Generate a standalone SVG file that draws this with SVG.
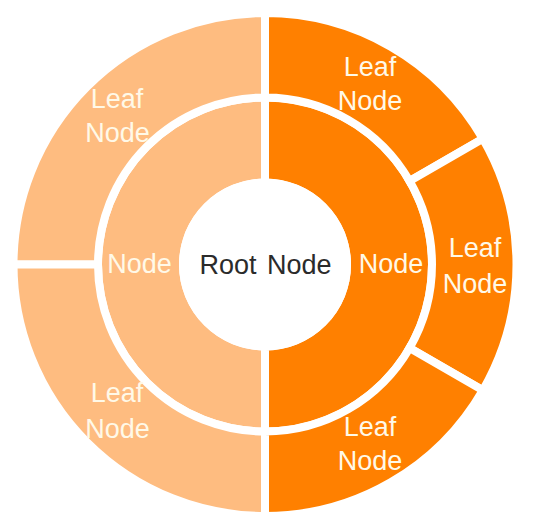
<svg xmlns="http://www.w3.org/2000/svg" width="540" height="530" viewBox="0 0 540 530">
<style>
.seg{stroke:#ffffff;stroke-width:8;stroke-linejoin:miter}
.light{fill:#FEBC80}
.dark{fill:#FF8000}
.lbl{font-family:"Liberation Sans","DejaVu Sans",sans-serif;font-size:27px;fill:#FFF9E8;text-anchor:middle}
.root{font-family:"Liberation Sans","DejaVu Sans",sans-serif;font-size:27px;fill:#2b2b2b;text-anchor:middle;word-spacing:3px}
</style>
<rect x="0" y="0" width="540" height="530" fill="#ffffff"/>
<g id="connectors"></g>
<g id="inner-left">
<path class="seg light" d="M265,97.5 A167,167 0 0 0 265,431.5 L265,346.5 A82,82 0 0 1 265,182.5 Z"/>
<text class="lbl" x="139.5" y="273">Node</text>
</g>
<g id="inner-right">
<path class="seg dark" d="M265,97.5 A167,167 0 0 1 265,431.5 L265,346.5 A82,82 0 0 0 265,182.5 Z"/>
<text class="lbl" x="391" y="273">Node</text>
</g>
<g id="leaf-top-left">
<path class="seg light" d="M265,13 A251.5,251.5 0 0 0 13.5,264.5 L98,264.5 A167,167 0 0 1 265,97.5 Z"/>
<text class="lbl" x="117" y="108">Leaf</text>
<text class="lbl" x="117.5" y="142">Node</text>
</g>
<g id="leaf-bottom-left">
<path class="seg light" d="M13.5,264.5 A251.5,251.5 0 0 0 265,516 L265,431.5 A167,167 0 0 1 98,264.5 Z"/>
<text class="lbl" x="117" y="402">Leaf</text>
<text class="lbl" x="117.5" y="437.5">Node</text>
</g>
<g id="leaf-top-right">
<path class="seg dark" d="M265,13 A251.5,251.5 0 0 1 482.81,138.75 L409.62,181 A167,167 0 0 0 265,97.5 Z"/>
<text class="lbl" x="370" y="76">Leaf</text>
<text class="lbl" x="370" y="109.5">Node</text>
</g>
<g id="leaf-right">
<path class="seg dark" d="M482.81,138.75 A251.5,251.5 0 0 1 482.81,390.25 L409.62,348 A167,167 0 0 0 409.62,181 Z"/>
<text class="lbl" x="475" y="256.5">Leaf</text>
<text class="lbl" x="475" y="292.5">Node</text>
</g>
<g id="leaf-bottom-right">
<path class="seg dark" d="M482.81,390.25 A251.5,251.5 0 0 1 265,516 L265,431.5 A167,167 0 0 0 409.62,348 Z"/>
<text class="lbl" x="370" y="436">Leaf</text>
<text class="lbl" x="370" y="470">Node</text>
</g>
<g id="root">
<circle cx="265" cy="264.5" r="86" fill="#ffffff"/>
<text class="root" x="265.5" y="273.5">Root Node</text>
</g>
</svg>
